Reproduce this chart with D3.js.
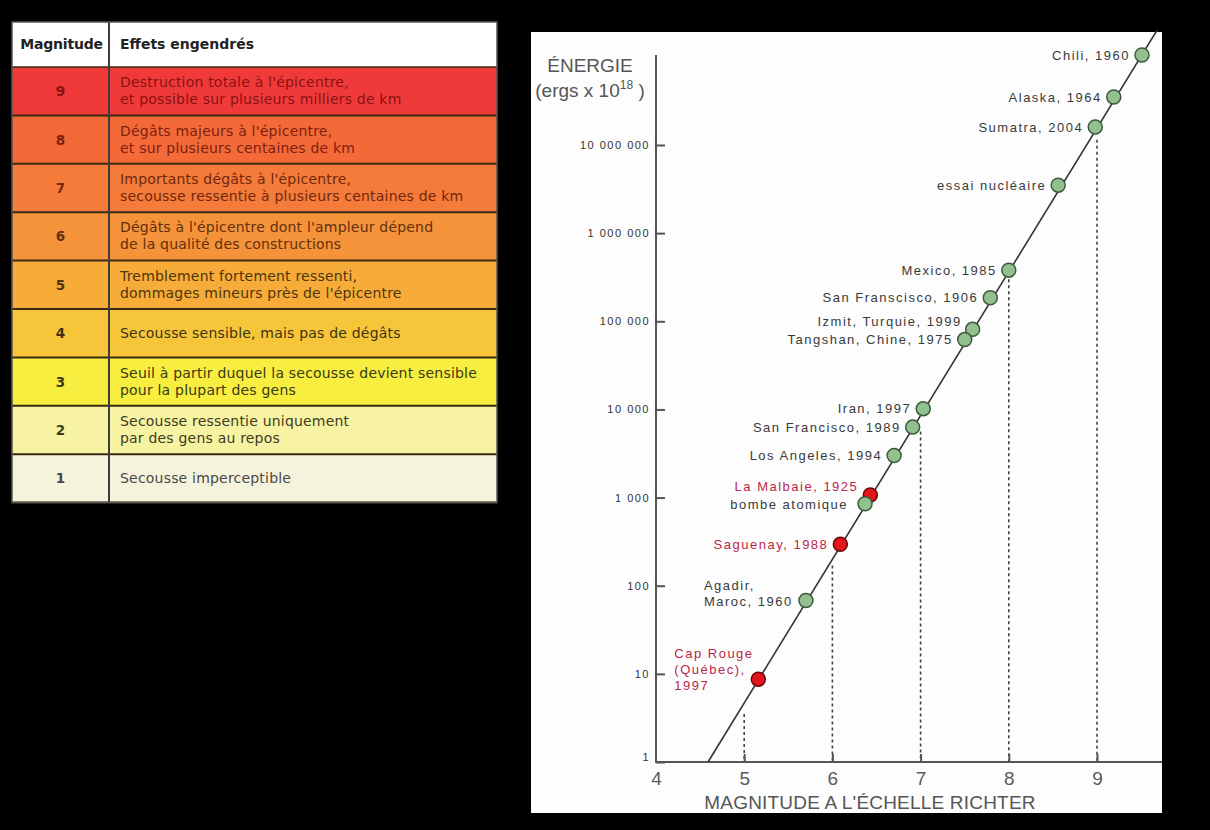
<!DOCTYPE html>
<html>
<head>
<meta charset="utf-8">
<script src="https://cdn.jsdelivr.net/npm/d3@7"></script>
<style>
  body { margin: 0; background: #000; }
  svg { display: block; }
</style>
</head>
<body>
<div id="chart"></div>
<script>
// table data
const tableMagnitudes = [9, 8, 7, 6, 5, 4, 3, 2, 1];
const tableEffects = [
  ["Destruction totale à l'épicentre,", "et possible sur plusieurs milliers de km"],
  ["Dégâts majeurs à l'épicentre,", "et sur plusieurs centaines de km"],
  ["Importants dégâts à l'épicentre,", "secousse ressentie à plusieurs centaines de km"],
  ["Dégâts à l'épicentre dont l'ampleur dépend", "de la qualité des constructions"],
  ["Tremblement fortement ressenti,", "dommages mineurs près de l'épicentre"],
  ["Secousse sensible, mais pas de dégâts"],
  ["Seuil à partir duquel la secousse devient sensible", "pour la plupart des gens"],
  ["Secousse ressentie uniquement", "par des gens au repos"],
  ["Secousse imperceptible"]
];

// chart data
const quakeNames = ["Chili, 1960", "Alaska, 1964", "Sumatra, 2004", "essai nucléaire",
  "Mexico, 1985", "San Franscisco, 1906", "Izmit, Turquie, 1999", "Tangshan, Chine, 1975",
  "Iran, 1997", "San Francisco, 1989", "Los Angeles, 1994", "La Malbaie, 1925",
  "bombe atomique", "Saguenay, 1988", "Agadir,\nMaroc, 1960", "Cap Rouge\n(Québec),\n1997"];
const quakeMagnitudes = [9.51, 9.19, 8.98, 8.56, 8.0, 7.79, 7.59, 7.5, 7.03, 6.91, 6.7, 6.43, 6.37, 6.09, 5.7, 5.16];
const quakeEnergies = [1.05e8, 3.5e7, 1.6e7, 3.5e6, 3.8e5, 1.85e5, 8.1e4, 6.2e4, 1.02e4, 6.3e3, 3.0e3, 1.07e3, 850, 295, 68, 8.7];
const quakeQuebec = [false, false, false, false, false, false, false, false, false, false, false, true, false, true, false, true];

const trendMagnitudes = [4.59, 9.75];
const trendEnergies = [1, 2.6e8];

const dropMagnitudes = [5, 6, 7, 8, 9];
const dropEnergies = [3.5, 170, 5600, 3.0e5, 1.15e7];

const yTicks = [1, 10, 100, 1000, 10000, 100000, 1000000, 10000000];
const xTicks = [4, 5, 6, 7, 8, 9];

const W = 1210, H = 830;
const svg = d3.select("#chart").append("svg")
  .attr("width", W)
  .attr("height", H)
  .style("background", "#000");

// ---------- table ----------
const rowColors = ["#f03a3a", "#f36a38", "#f47b3a", "#f5933a", "#f7ab38", "#f7c53a", "#f8ee40", "#f8f3a2", "#f6f3dc"];
const textColors = ["#8a1212", "#7e2010", "#72280c", "#62300c", "#4e360c", "#3c3410", "#3a3a14", "#3c3c24", "#484848"];
const tX = 12, tW = 485, colX = 109, headTop = 22, headH = 45;
const rowH = 48.4;
const tFont = "'DejaVu Sans', Verdana, sans-serif";

const table = svg.append("g");
table.append("rect")
  .attr("x", tX).attr("y", headTop)
  .attr("width", tW).attr("height", headH)
  .attr("fill", "#fff");
table.append("text")
  .attr("x", (tX + colX) / 2 + 1).attr("y", headTop + 27)
  .attr("text-anchor", "middle")
  .style("font", `bold 14px ${tFont}`)
  .style("letter-spacing", "-0.2px")
  .attr("fill", "#222")
  .text("Magnitude");
table.append("text")
  .attr("x", colX + 11).attr("y", headTop + 27)
  .style("font", `bold 14px ${tFont}`)
  .attr("fill", "#222")
  .text("Effets engendrés");

const rows = table.selectAll("g.row")
  .data(tableMagnitudes)
  .join("g")
  .attr("class", "row")
  .attr("transform", (d, i) => `translate(0,${headTop + headH + i * rowH})`);

rows.append("rect")
  .attr("x", tX).attr("width", tW).attr("height", rowH)
  .attr("fill", (d, i) => rowColors[i]);

rows.append("text")
  .attr("x", (tX + colX) / 2).attr("y", rowH / 2 + 5)
  .attr("text-anchor", "middle")
  .style("font", `bold 13.5px ${tFont}`)
  .attr("fill", (d, i) => textColors[i])
  .text(d => d);

rows.each(function (d, i) {
  const lines = tableEffects[i];
  const t = d3.select(this).append("text")
    .style("font", `14px ${tFont}`)
    .style("letter-spacing", "0.2px")
    .attr("fill", textColors[i]);
  const y0 = lines.length === 1 ? rowH / 2 + 5 : rowH / 2 - 4;
  lines.forEach((ln, k) => {
    t.append("tspan").attr("x", colX + 11).attr("y", y0 + k * 17).text(ln);
  });
});

// row borders
const tBottom = headTop + headH + 9 * rowH;
table.selectAll("line.hr")
  .data(d3.range(10))
  .join("line")
  .attr("x1", tX).attr("x2", tX + tW)
  .attr("y1", i => headTop + headH + i * rowH)
  .attr("y2", i => headTop + headH + i * rowH)
  .attr("stroke", "#3a2a14")
  .attr("stroke-width", i => i === 0 ? 1.5 : 2);
table.append("line")
  .attr("x1", colX).attr("x2", colX)
  .attr("y1", headTop).attr("y2", tBottom)
  .attr("stroke", "#3c3c3c").attr("stroke-width", 2);
table.append("rect")
  .attr("x", tX).attr("y", headTop)
  .attr("width", tW).attr("height", tBottom - headTop)
  .attr("fill", "none").attr("stroke", "#555").attr("stroke-width", 1.5);

// ---------- chart ----------
const panel = { x: 531, y: 32, w: 631, h: 781 };
svg.append("rect")
  .attr("x", panel.x).attr("y", panel.y)
  .attr("width", panel.w).attr("height", panel.h)
  .attr("fill", "#fdfdfd");

svg.append("clipPath").attr("id", "panelClip")
  .append("rect")
  .attr("x", panel.x).attr("y", panel.y - 2)
  .attr("width", panel.w).attr("height", panel.h);

const x = d3.scaleLinear().domain([4, 9]).range([656, 1097]);
const y = d3.scaleLog().domain([1, 1e7]).range([762, 145]);
const cFont = "'Liberation Sans', Arial, sans-serif";

// dashed drop lines
svg.selectAll("line.drop")
  .data(dropMagnitudes)
  .join("line")
  .attr("class", "drop")
  .attr("x1", d => x(d)).attr("x2", d => x(d))
  .attr("y1", (d, i) => y(dropEnergies[i]))
  .attr("y2", y(1))
  .attr("stroke", "#444")
  .attr("stroke-width", 1.6)
  .attr("stroke-dasharray", "3,3");

// axes
const yAxis = d3.axisLeft(y)
  .tickValues(yTicks)
  .tickSizeInner(-9)
  .tickSizeOuter(0)
  .tickPadding(6)
  .tickFormat(d => d3.format(",")(d).replace(/,/g, " "));
const gy = svg.append("g")
  .attr("transform", `translate(${x(4)},0)`)
  .call(yAxis);
gy.select(".domain").remove();
gy.selectAll(".tick line").attr("stroke", "#555").attr("stroke-width", 2);
gy.selectAll(".tick text")
  .style("font", `11px ${cFont}`)
  .style("letter-spacing", "1.5px")
  .attr("fill", "#333");
gy.selectAll(".tick").filter(d => d === 1).select("text").attr("dy", "-0.15em");

const xAxis = d3.axisBottom(x)
  .tickValues(xTicks)
  .tickSizeInner(-8)
  .tickSizeOuter(0)
  .tickPadding(10)
  .tickFormat(d3.format("d"));
const gx = svg.append("g")
  .attr("transform", `translate(0,${y(1)})`)
  .call(xAxis);
gx.select(".domain").remove();
gx.selectAll(".tick line").attr("stroke", "#555").attr("stroke-width", 2);
gx.selectAll(".tick text")
  .style("font", `19px ${cFont}`)
  .attr("fill", "#5a5a5a");
gx.selectAll(".tick").filter(d => d === 4).select("line").remove();

svg.append("line")
  .attr("x1", x(4)).attr("x2", panel.x + panel.w)
  .attr("y1", y(1)).attr("y2", y(1))
  .attr("stroke", "#555").attr("stroke-width", 2);
svg.append("line")
  .attr("x1", x(4)).attr("x2", x(4))
  .attr("y1", 55).attr("y2", y(1) + 1)
  .attr("stroke", "#555").attr("stroke-width", 2);

// axis titles
svg.append("text")
  .attr("x", 590).attr("y", 72)
  .attr("text-anchor", "middle")
  .style("font", `19px ${cFont}`)
  .attr("fill", "#555")
  .text("ÉNERGIE");
const yt = svg.append("text")
  .attr("x", 590).attr("y", 97)
  .attr("text-anchor", "middle")
  .style("font", `19px ${cFont}`)
  .attr("fill", "#555");
yt.append("tspan").text("(ergs x 10");
yt.append("tspan").attr("dy", -8).style("font-size", "12px").text("18");
yt.append("tspan").attr("dy", 8).text(" )");

svg.append("text")
  .attr("x", 870).attr("y", 809)
  .attr("text-anchor", "middle")
  .style("font", `19px ${cFont}`)
  .style("letter-spacing", "0.2px")
  .attr("fill", "#555")
  .text("MAGNITUDE A L'ÉCHELLE RICHTER");

// trend line
svg.append("path")
  .datum(d3.zip(trendMagnitudes, trendEnergies))
  .attr("clip-path", "url(#panelClip)")
  .attr("fill", "none")
  .attr("stroke", "#333")
  .attr("stroke-width", 1.6)
  .attr("d", d3.line().x(d => x(d[0])).y(d => y(d[1])));

// points
const quakes = quakeNames.map((n, i) => ({
  name: n, m: quakeMagnitudes[i], e: quakeEnergies[i], qc: quakeQuebec[i]
}));

// label placement (offsets from point centre)
const labelLayout = {
  "Izmit, Turquie, 1999": { dx: -11, dy: -8, anchor: "end" },
  "La Malbaie, 1925": { dx: -12, dy: -9, anchor: "end" },
  "bombe atomique": { dx: -17, dy: 1, anchor: "end" },
  "Agadir,\nMaroc, 1960": { dx: -102, dy: -15, anchor: "start" },
  "Cap Rouge\n(Québec),\n1997": { dx: -84, dy: -26, anchor: "start" }
};

const pts = svg.append("g");
pts.selectAll("circle")
  .data(quakes)
  .join("circle")
  .attr("cx", d => x(d.m))
  .attr("cy", d => y(d.e))
  .attr("r", 7)
  .attr("fill", d => d.qc ? "#e4141c" : "#92c08e")
  .attr("stroke", d => d.qc ? "#6a0606" : "#3d5a3d")
  .attr("stroke-width", 1.5);

pts.selectAll("text")
  .data(quakes)
  .join("text")
  .each(function (d) {
    const lay = labelLayout[d.name] || { dx: -12, dy: 0, anchor: "end" };
    const cx = x(d.m), cy = y(d.e);
    const t = d3.select(this)
      .attr("text-anchor", lay.anchor)
      .style("font", `13px ${cFont}`)
      .style("letter-spacing", "1.5px")
      .attr("fill", d.qc ? "#b82848" : "#3a3a3a");
    d.name.split("\n").forEach((ln, k) => {
      t.append("tspan")
        .attr("x", cx + lay.dx)
        .attr("y", cy + lay.dy + k * 16)
        .attr("dy", "0.35em")
        .text(ln);
    });
  });
</script>
</body>
</html>
